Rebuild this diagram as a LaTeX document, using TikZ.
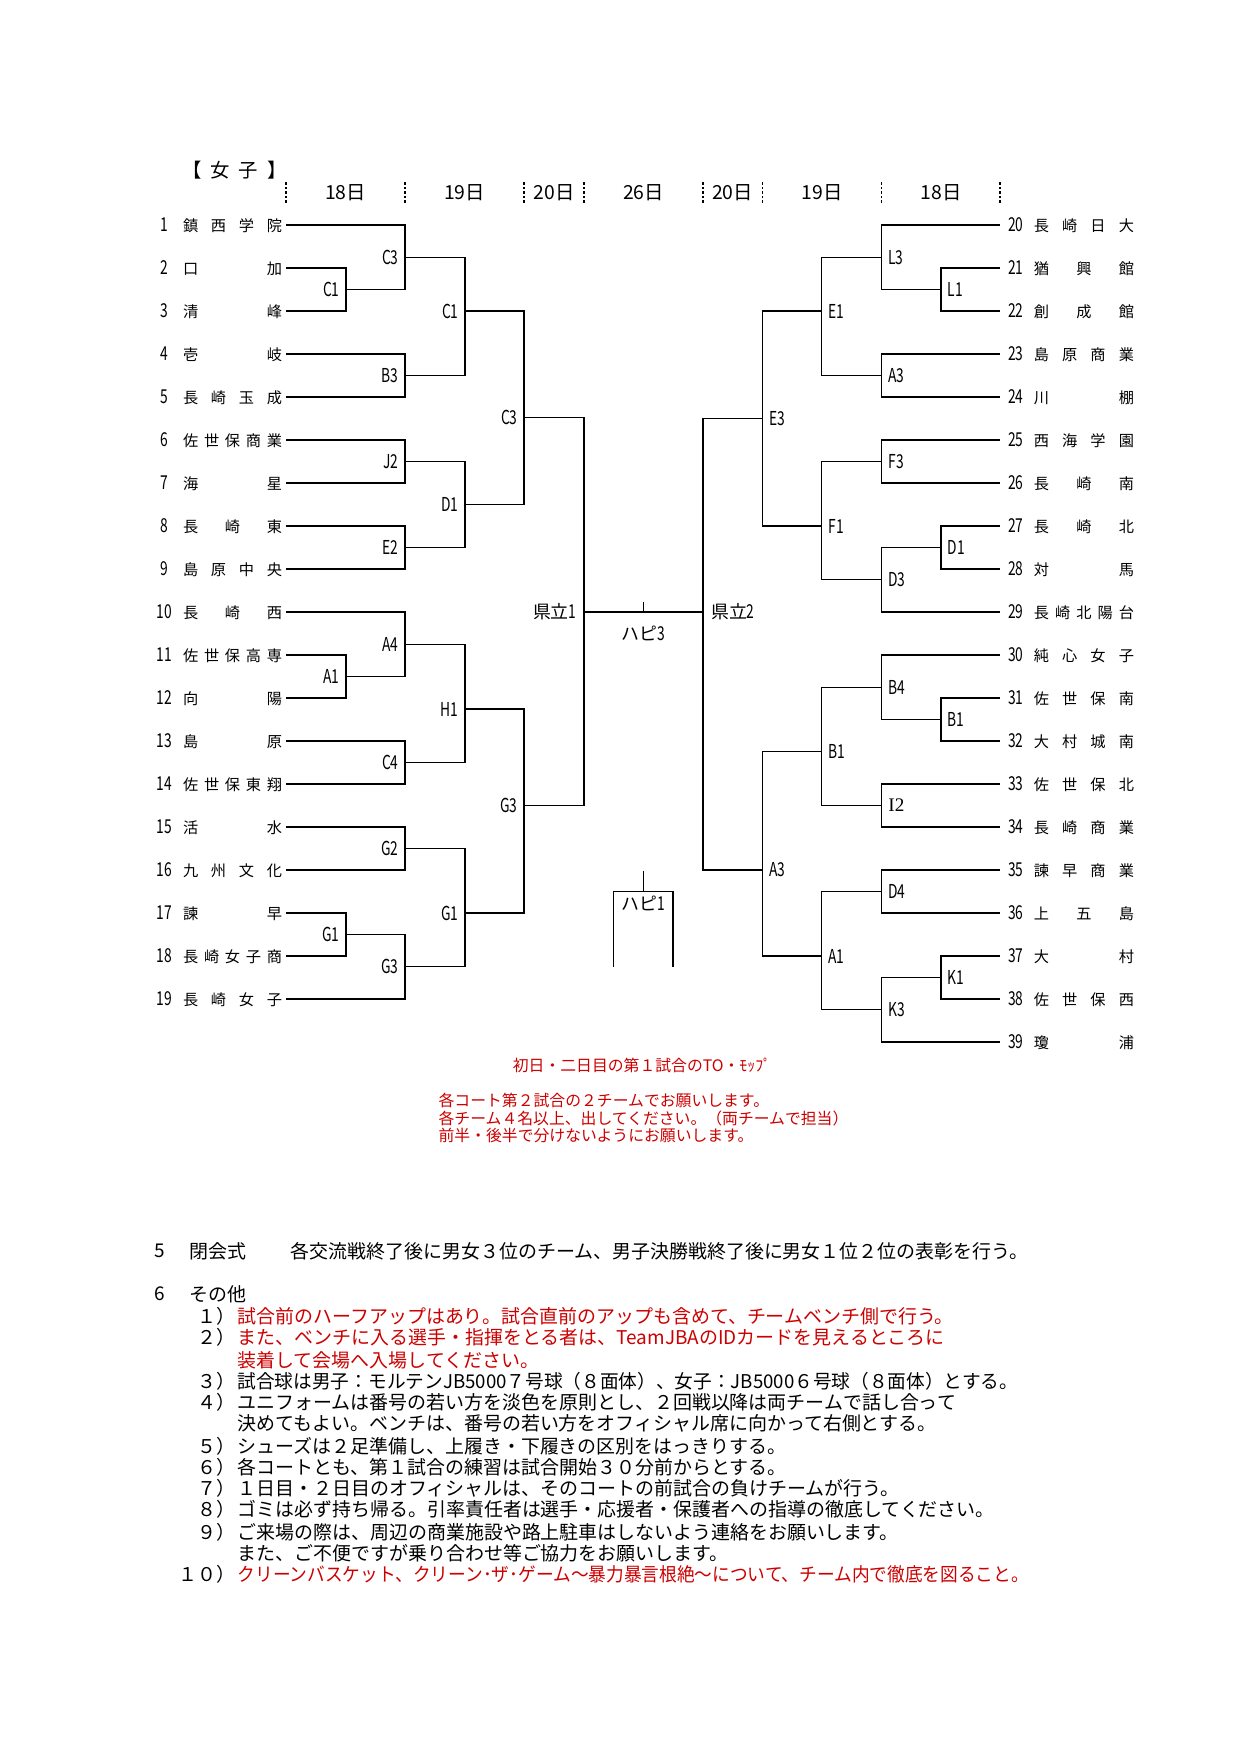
\documentclass[tikz,border=0pt]{standalone}
\usepackage{fontspec}
\setmainfont{Noto Sans CJK JP}
\newfontfamily\serifl{Liberation Serif}
\usepackage{graphicx}
\usepackage{tikz}
\usetikzlibrary{positioning}
\definecolor{notered}{RGB}{204,0,0}
\newcommand\nar[1]{\scalebox{0.72}[1]{#1}}
\newcommand\numf{\fontsize{9.2}{10}\selectfont}

\begin{document}
\begin{tikzpicture}[x=0.48pt,y=-0.48pt,line width=0.6pt,
  teamL/.style={anchor=east,inner sep=0pt,outer xsep=1.9pt,font=\fontsize{7.3}{8}\selectfont},
  teamR/.style={teamL,anchor=west},
  lab/.style={inner sep=0pt,font=\numf},
  mid/.style={inner sep=0pt,font=\fontsize{8.6}{9}\selectfont},
  hdr/.style={inner sep=0pt,font=\fontsize{9.3}{10}\selectfont},
  sep/.style={dash pattern=on 1.2pt off 1pt,line width=0.6pt},
  memo/.style={inner sep=0pt,text=notered,font=\fontsize{7.6}{8.3}\selectfont},
  note/.style={anchor=west,inner sep=0pt,font=\fontsize{9.1}{10}\selectfont},
  rnote/.style={note,text=notered}]
  \useasboundingbox (0,0) rectangle (1240,1754);

  \node[hdr] (ttl) at (234.5,170) {\makebox[50pt][s]{【 女 子 】}};
  \foreach \x in {286,405,524,584,703,762.5,881.5,1000}
    \draw[sep] (\x,182) -- (\x,204);
  \foreach \x/\d [count=\k] in {345.5/18,464.5/19,554/20,643.5/26,732.5/20,822/19,941/18}
    \node[hdr] (day\k) at (\x,193) {{\d}日};

  \foreach \nm [count=\i] in {鎮 西 学 院,口 加,清 峰,壱 岐,長 崎 玉 成,佐 世 保 商 業,海 星,長 崎 東,
      島 原 中 央,長 崎 西,佐 世 保 高 専,向 陽,島 原,佐 世 保 東 翔,活 水,九 州 文 化,諫 早,
      長 崎 女 子 商,長 崎 女 子}
    \node[teamL] (t\i) at (286,{225+43*(\i-1)})
      {\makebox[13.4pt]{\numf\nar{\i}}\hspace{2.4pt}\makebox[47.5pt][s]{\nm}};
  \foreach \nm [count=\i from 20] in {長 崎 日 大,猶 興 館,創 成 館,島 原 商 業,川 棚,西 海 学 園,
      長 崎 南,長 崎 北,対 馬,長 崎 北 陽 台,純 心 女 子,佐 世 保 南,大 村 城 南,佐 世 保 北,
      長 崎 商 業,諫 早 商 業,上 五 島,大 村,佐 世 保 西,瓊 浦}
    \node[teamR] (t\i) at (1000,{225+43*(\i-20)})
      {\makebox[11.5pt]{\numf\nar{\i}}\hspace{2.9pt}\makebox[48pt][s]{\nm}};

  \foreach \m/\x/\y/\txt in {lC1p/346/289.5/C1,lC3a/405/257.25/C3,lB3/405/375.5/B3,lC1/465/311/C1,
      lJ2/405/461.5/J2,lE2/405/547.5/E2,lD1/465/504.5/D1,lC3/524/417.7/C3,lA1p/346/676.5/A1,
      lA4/405/644.25/A4,lC4/405/762.5/C4,lH1/465/709/H1,lG2/405/848.5/G2,lG1p/346/934.5/G1,
      lG3a/405/966.75/G3,lG1/465/913/G1,lG3/524/805.7/G3}
    {\coordinate (\m) at (\x,\y);
     \node[lab,left=2.8pt of \m] (\m-t) {\nar{\txt}};}
  \foreach \m/\x/\y/\txt in {rL1p/941/289.5/L1,rL3/881.5/257.25/L3,rA3a/881.5/375.5/A3,rE1/821.5/311/E1,
      rF3/881.5/461.5/F3,rD1p/941/547.5/D1,rD3/881.5/579.75/D3,rF1/821.5/526/F1,rE3/762.5/418.3/E3,
      rB1p/941/719.5/B1,rB4/881.5/687.25/B4,rB1/821.5/751.75/B1,rD4/881.5/891.5/D4,rK1p/941/977.5/K1,
      rK3/881.5/1009.75/K3,rA1/821.5/956/A1,rA3/762.5/870/A3}
    {\coordinate (\m) at (\x,\y);
     \node[lab,right=3pt of \m] (\m-t) {\nar{\txt}};}
  \coordinate (rI2) at (881.5,805.5);
  \node[lab,right=3pt of rI2] (rI2-t) {\serifl I2};

  \draw (t2.east) -| (lC1p) |- (t3.east);
  \draw (t1.east) -| (lC3a) |- (lC1p);
  \draw (t4.east) -| (lB3) |- (t5.east);
  \draw (lC3a) -| (lC1) |- (lB3);
  \draw (t6.east) -| (lJ2) |- (t7.east);
  \draw (t8.east) -| (lE2) |- (t9.east);
  \draw (lJ2) -| (lD1) |- (lE2);
  \draw (lC1) -| (lC3) |- (lD1);
  \draw (t11.east) -| (lA1p) |- (t12.east);
  \draw (t10.east) -| (lA4) |- (lA1p);
  \draw (t13.east) -| (lC4) |- (t14.east);
  \draw (lA4) -| (lH1) |- (lC4);
  \draw (t15.east) -| (lG2) |- (t16.east);
  \draw (t17.east) -| (lG1p) |- (t18.east);
  \draw (lG1p) -| (lG3a) |- (t19.east);
  \draw (lG2) -| (lG1) |- (lG3a);
  \draw (lH1) -| (lG3) |- (lG1);

  \draw (t21.west) -| (rL1p) |- (t22.west);
  \draw (t20.west) -| (rL3) |- (rL1p);
  \draw (t23.west) -| (rA3a) |- (t24.west);
  \draw (rL3) -| (rE1) |- (rA3a);
  \draw (t25.west) -| (rF3) |- (t26.west);
  \draw (t27.west) -| (rD1p) |- (t28.west);
  \draw (rD1p) -| (rD3) |- (t29.west);
  \draw (rF3) -| (rF1) |- (rD3);
  \draw (rE1) -| (rE3) |- (rF1);
  \draw (t31.west) -| (rB1p) |- (t32.west);
  \draw (t30.west) -| (rB4) |- (rB1p);
  \draw (t33.west) -| (rI2) |- (t34.west);
  \draw (rB4) -| (rB1) |- (rI2);
  \draw (t35.west) -| (rD4) |- (t36.west);
  \draw (t37.west) -| (rK1p) |- (t38.west);
  \draw (rK1p) -| (rK3) |- (t39.west);
  \draw (rD4) -| (rA1) |- (rK3);
  \draw (rB1) -| (rA3) |- (rA1);

  \coordinate (kl1) at (584,612);
  \coordinate (kr2) at (703,612);
  \node[mid,left=3.3pt of kl1] (kl1-t) {県立{\numf\nar{1}}};
  \node[mid,right=3.6pt of kr2] (kr2-t) {県立{\numf\nar{2}}};
  \draw (lC3) -| (kl1) |- (lG3);
  \draw (rE3) -| (kr2) |- (rA3);
  \draw (kl1) -- (kr2);

  \coordinate (h3top) at (643.5,601.5);
  \coordinate (h3) at (643.5,612);
  \draw (h3top) -- (h3);
  \node[mid] (h3-t) at (643.5,633) {ハピ{\numf\nar{3}}};
  \coordinate (h1top) at (643.5,870.5);
  \coordinate (h1) at (643.5,891.5);
  \coordinate (h1L) at (613.5,966.5);
  \coordinate (h1R) at (673,966.5);
  \draw (h1top) -- (h1);
  \draw (h1L) |- (h1) -| (h1R);
  \node[mid] (h1-t) at (643.5,903) {ハピ{\numf\nar{1}}};

  \node[memo] (memo1) at (642,1065) {初日・二日目の第１試合のTO・ﾓｯﾌﾟ};
  \node[memo,anchor=west,align=left] (memo2) at (438,1118)
    {各コート第２試合の２チームでお願いします。\\各チーム４名以上、出してください。（両チームで担当）\\前半・後半で分けないようにお願いします。};

  \node[note] (s5) at (154,1251) {5};
  \node[note] (s5a) at (189,1251) {閉会式};
  \node[note] (s5b) at (290,1251) {各交流戦終了後に男女３位のチーム、男子決勝戦終了後に男女１位２位の表彰を行う。};
  \node[note] (s6) at (154,1294) {6};
  \node[note] (s6a) at (189,1294) {その他};
  \foreach \k/\y [count=\c] in {１/1316,２/1337,３/1381,４/1402,５/1446,６/1467,７/1488,８/1509,９/1532,１０/1574}
    \node[note,anchor=east] (item\c) at (236,\y) {{\k}）};
  \node[rnote] (i1) at (237,1316) {試合前のハーフアップはあり。試合直前のアップも含めて、チームベンチ側で行う。};
  \node[rnote] (i2) at (237,1337) {また、ベンチに入る選手・指揮をとる者は、TeamJBAのIDカードを見えるところに};
  \node[rnote] (i2b) at (237,1360) {装着して会場へ入場してください。};
  \node[note] (i3) at (237,1381) {\scalebox{0.985}[1]{試合球は男子：モルテンJB5000７号球（８面体）、女子：JB5000６号球（８面体）とする。}};
  \node[note] (i4) at (237,1402) {ユニフォームは番号の若い方を淡色を原則とし、２回戦以降は両チームで話し合って};
  \node[note] (i4b) at (237,1423) {決めてもよい。ベンチは、番号の若い方をオフィシャル席に向かって右側とする。};
  \node[note] (i5) at (237,1446) {シューズは２足準備し、上履き・下履きの区別をはっきりする。};
  \node[note] (i6) at (237,1467) {各コートとも、第１試合の練習は試合開始３０分前からとする。};
  \node[note] (i7) at (237,1488) {１日目・２日目のオフィシャルは、そのコートの前試合の負けチームが行う。};
  \node[note] (i8) at (237,1509) {ゴミは必ず持ち帰る。引率責任者は選手・応援者・保護者への指導の徹底してください。};
  \node[note] (i9) at (237,1532) {ご来場の際は、周辺の商業施設や路上駐車はしないよう連絡をお願いします。};
  \node[note] (i9b) at (237,1553) {また、ご不便ですが乗り合わせ等ご協力をお願いします。};
  \node[rnote] (i10) at (237,1574) {\scalebox{0.933}[1]{クリーンバスケット、クリーン･ザ･ゲーム～暴力暴言根絶～について、チーム内で徹底を図ること。}};
\end{tikzpicture}
\end{document}
